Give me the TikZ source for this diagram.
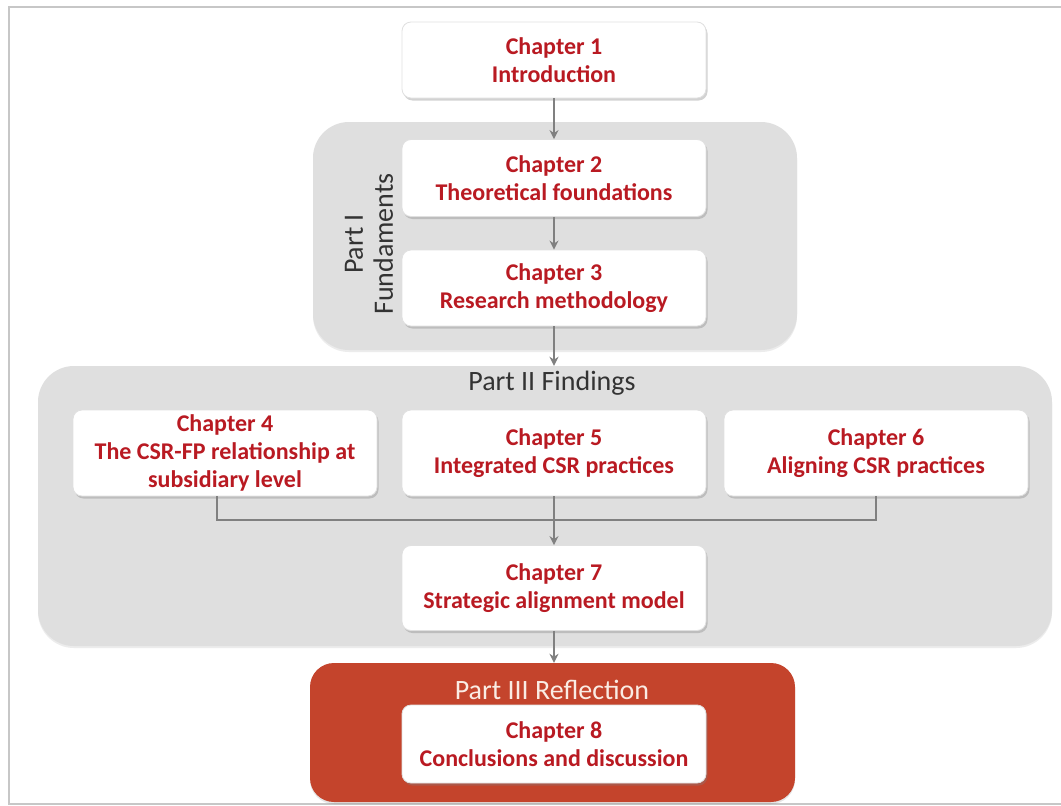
\documentclass[tikz,border=0pt]{standalone}
\usepackage{fontspec}
\setmainfont{Carlito}
\usetikzlibrary{arrows.meta,shadows,positioning}
\definecolor{chapred}{RGB}{185,26,34}
\definecolor{partred}{RGB}{196,68,44}
\definecolor{partgray}{RGB}{223,223,223}
\definecolor{linkgray}{RGB}{128,128,128}
\definecolor{reflect}{RGB}{250,236,228}
\tikzset{
  chapbox/.style={draw=black!12, line width=0.8pt, fill=white, rounded corners=9pt,
    minimum width=304pt, align=center, font=\bfseries\fontsize{24}{28}\selectfont,
    text=chapred, inner sep=0pt,
    drop shadow={opacity=0.35, shadow xshift=1.5pt, shadow yshift=-2.5pt}},
  partbox/.style={draw=none, fill=partgray, rounded corners=36pt, inner sep=0pt,
    drop shadow={opacity=0.15, shadow xshift=0pt, shadow yshift=-2pt}},
  reflectbox/.style={draw=none, fill=partred, rounded corners=24pt, inner sep=0pt,
    drop shadow={opacity=0.2, shadow xshift=0pt, shadow yshift=-2pt}},
  parttitle/.style={font=\fontsize{28}{30}\selectfont, text=black!80, align=center, inner sep=0pt},
  link/.style={draw=linkgray, line width=2pt},
  linkarrow/.style={link, -{Stealth[length=9pt,width=9pt]}},
}
\begin{document}
\begin{tikzpicture}[x=1pt,y=-1pt]
\useasboundingbox (0,0) rectangle (1061,806);
\fill[white] (0,0) rectangle (1061,806);
% outer frame
\draw[black!22, line width=1.6pt] (1075,7) -- (9,7) -- (9,804) -- (1075,804);

% part regions
\node[partbox, minimum width=484pt, minimum height=228pt] (part1) at (555,236) {};
\node[partbox, minimum width=1014pt, minimum height=280pt] (part2) at (545,506) {};
\node[reflectbox, minimum width=485pt, minimum height=139pt] (part3) at (552.5,732.5) {};

% part titles
\node[parttitle, rotate=90] (t1) at (369,244) {Part I\\Fundaments};
\node[parttitle] (t2) at (552,383) {Part II Findings};
\node[parttitle, text=reflect] (t3) at (552,690) {Part III Reflection};

% chapters
\node[chapbox, minimum height=76pt] (ch1) at (554,60) {Chapter 1\\Introduction};
\node[chapbox, minimum height=77pt] (ch2) at (554,178) {Chapter 2\\Theoretical foundations};
\node[chapbox, minimum height=76pt] (ch3) at (554,288) {Chapter 3\\Research methodology};
\node[chapbox, minimum height=86pt] (ch4) at (225,453) {Chapter 4\\The CSR-FP relationship at\\subsidiary level};
\node[chapbox, minimum height=86pt] (ch5) at (554,453) {Chapter 5\\Integrated CSR practices};
\node[chapbox, minimum height=86pt] (ch6) at (876,453) {Chapter 6\\Aligning CSR practices};
\node[chapbox, minimum height=85pt] (ch7) at (554,588) {Chapter 7\\Strategic alignment model};
\node[chapbox, minimum height=78pt] (ch8) at (554,744) {Chapter 8\\Conclusions and discussion};

% connectors
\draw[linkarrow] (ch1.south) -- (ch2.north);
\draw[linkarrow] (ch2.south) -- (ch3.north);
\draw[linkarrow] (ch3.south) -- (ch3.south |- part2.north);
\coordinate (join) at (554,520);
\draw[link] ([xshift=-8pt]ch4.south) |- (join) -| (ch6.south);
\draw[linkarrow] (ch5.south) -- (ch7.north);
\draw[linkarrow] (ch7.south) -- (ch7.south |- part3.north);
\end{tikzpicture}
\end{document}
